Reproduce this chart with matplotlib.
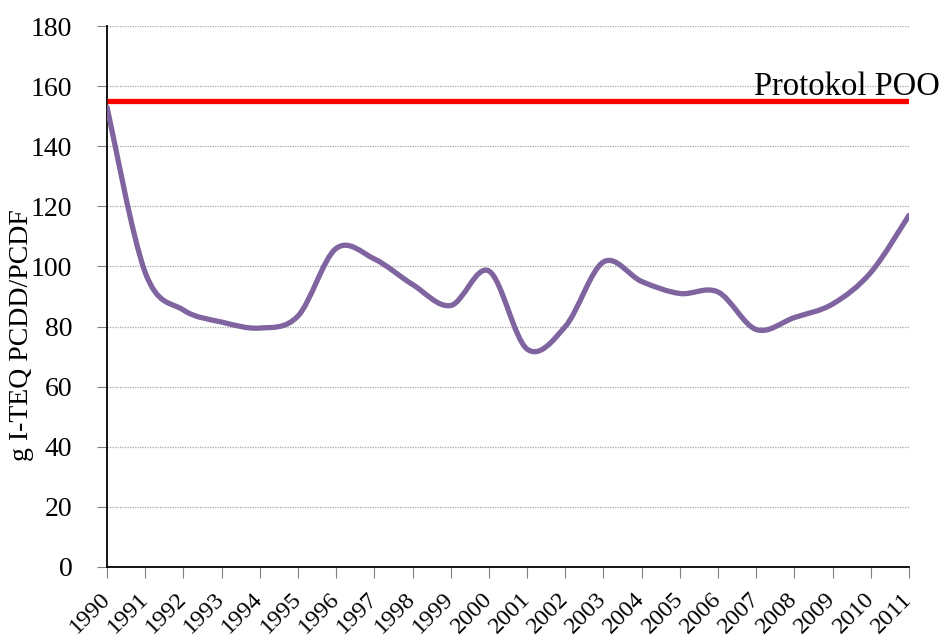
import matplotlib
matplotlib.use("Agg")
import matplotlib.pyplot as plt
from matplotlib.path import Path
from matplotlib.patches import PathPatch

years = [str(y) for y in range(1990, 2012)]
emissions = [153, 98, 85.5, 81.5, 79.5, 83.5, 106, 102.5, 94, 87, 98.5,
             72.5, 80, 101.5, 95, 91, 91.5, 79, 83, 87.5, 98, 117]
protocol_limit = 155
protocol_label = "Protokol POO"
ylabel = "g I-TEQ PCDD/PCDF"
yticks = list(range(0, 181, 20))

plt.rcParams['font.family'] = ['Liberation Serif', 'DejaVu Serif']

fig = plt.figure(figsize=(9.44, 6.41), dpi=100)
ax = fig.add_axes([107/944, 1-567/641, (909-107)/944, (567-26)/641])

xs = list(range(len(years)))

# Excel-style smoothed line (Catmull-Rom cubic Bezier through the data points)
verts = [(xs[0], emissions[0])]
codes = [Path.MOVETO]
n = len(xs)
for i in range(n - 1):
    p0 = (xs[i-1], emissions[i-1]) if i > 0 else (xs[i], emissions[i])
    p1 = (xs[i], emissions[i])
    p2 = (xs[i+1], emissions[i+1])
    p3 = (xs[i+2], emissions[i+2]) if i + 2 < n else p2
    c1 = (p1[0] + (p2[0]-p0[0])/6, p1[1] + (p2[1]-p0[1])/6)
    c2 = (p2[0] - (p3[0]-p1[0])/6, p2[1] - (p3[1]-p1[1])/6)
    verts += [c1, c2, p2]
    codes += [Path.CURVE4]*3
ax.add_patch(PathPatch(Path(verts, codes), facecolor='none', edgecolor='#7F64A0',
                       lw=3.8, capstyle='round', joinstyle='round', zorder=3))

ax.plot([xs[0], xs[-1]], [protocol_limit]*2, color='#FF0000', lw=3.8, zorder=4,
        solid_capstyle='butt')
ax.annotate(protocol_label, xy=(1, protocol_limit), xycoords=('axes fraction', 'data'),
            xytext=(31*0.72, 6*0.72), textcoords='offset points',
            ha='right', va='baseline', fontsize=23.5, annotation_clip=False)

ax.set_xlim(xs[0], xs[-1])
ax.set_ylim(0, 180)
ax.set_yticks(yticks)
ax.set_xticks(xs)
ax.set_xticklabels(years, rotation=45, ha='right', va='center',
                   rotation_mode='anchor', fontsize=17.5)
ax.tick_params(axis='x', length=8, color='#808080', pad=13)
ax.tick_params(axis='y', length=7, color='#808080', labelsize=20, pad=18)
ax.yaxis.grid(True, linestyle=(0, (1, 1)), color='#A6A6A6', lw=0.9)
ax.set_axisbelow(True)
for s in ['top', 'right']:
    ax.spines[s].set_visible(False)
for s in ['left', 'bottom']:
    ax.spines[s].set_color('black')
    ax.spines[s].set_linewidth(1.3)
ax.set_ylabel(ylabel, fontsize=20)
ax.yaxis.set_label_coords(-(107-34)/802, 0.429)

fig.savefig("out.png", dpi=100)
